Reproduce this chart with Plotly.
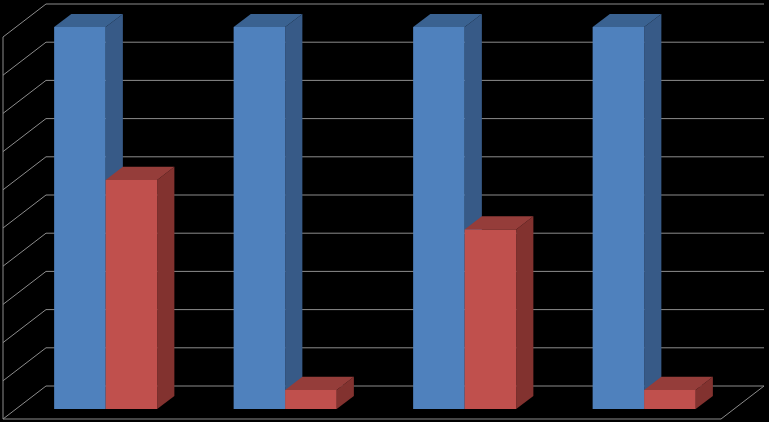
#!/usr/bin/env python3
"""Oblique 3D-look grouped bars on black, no labels."""
import plotly.graph_objects as go

# ── data ──────────────────────────────────────────────
groups = [0, 1, 2, 3]
blue_values = [100, 100, 100, 100]
red_values = [60, 5, 47, 5]
grid_values = [0, 10, 20, 30, 40, 50, 60, 70, 80, 90, 100]

# ── look ──────────────────────────────────────────────
W, H = 769, 422
PX_X, PX_Y = 179.5, 3.82          # pixels per category / per value
DEPTH_X, DEPTH_Y = 0.2396, 8.64   # shift of the back wall, in axis units
BAR_W = 0.287
BAR_FRONT, BAR_BACK = 0.3, 0.7    # bar position along the depth

BLUE = ("#4f81bd", "#375a87", "#3a6291")   # front, side, top
RED = ("#c0504d", "#82322f", "#953d3a")
GRID = "#8c8c8c"


def proj(x, d, v):
    # oblique projection: d=0 front plane, d=1 back wall
    return x + d * DEPTH_X, v + d * DEPTH_Y


def face(points, color):
    xs, ys = zip(*[proj(*p) for p in points])
    return go.Scatter(x=list(xs) + [xs[0]], y=list(ys) + [ys[0]], mode="lines",
                      fill="toself", fillcolor=color, line=dict(width=0),
                      hoverinfo="skip", showlegend=False)


def bar_faces(x0, x1, v, colors):
    front, side, top = colors
    f, b = BAR_FRONT, BAR_BACK
    return [
        face([(x1, f, 0), (x1, b, 0), (x1, b, v), (x1, f, v)], side),
        face([(x0, f, v), (x1, f, v), (x1, b, v), (x0, b, v)], top),
        face([(x0, f, 0), (x1, f, 0), (x1, f, v), (x0, f, v)], front),
    ]


fig = go.Figure()

# walls and floor
left, right = -0.5, 3.5
gx, gy = [], []
for v in grid_values:
    for p in [(left, 0, v), (left, 1, v), (right, 1, v)]:
        x, y = proj(*p)
        gx.append(x)
        gy.append(y)
    gx.append(None)
    gy.append(None)
for p in [(left, 0, 100), (left, 0, 0), (right, 0, 0), (right, 1, 0)]:
    x, y = proj(*p)
    gx.append(x)
    gy.append(y)
fig.add_trace(go.Scatter(x=gx, y=gy, mode="lines", line=dict(color=GRID, width=1),
                         hoverinfo="skip", showlegend=False))

# bars, back to front within each group
for g, b_val, r_val in zip(groups, blue_values, red_values):
    for t in bar_faces(g - BAR_W, g, b_val, BLUE):
        fig.add_trace(t)
    for t in bar_faces(g, g + BAR_W, r_val, RED):
        fig.add_trace(t)

fig.update_layout(
    width=W, height=H, margin=dict(l=0, r=0, t=0, b=0),
    paper_bgcolor="#000000", plot_bgcolor="#000000",
    hovermode=False,
    xaxis=dict(range=[left - 3 / PX_X, left + 766 / PX_X], visible=False),
    yaxis=dict(range=[-3 / PX_Y, 419 / PX_Y], visible=False),
)

# page body margin would shift the figure by 8px
fig.write_html("out.html", config={"displayModeBar": False},
               post_script="document.body.style.margin='0';document.body.style.overflow='hidden';document.body.style.background='#000';")
